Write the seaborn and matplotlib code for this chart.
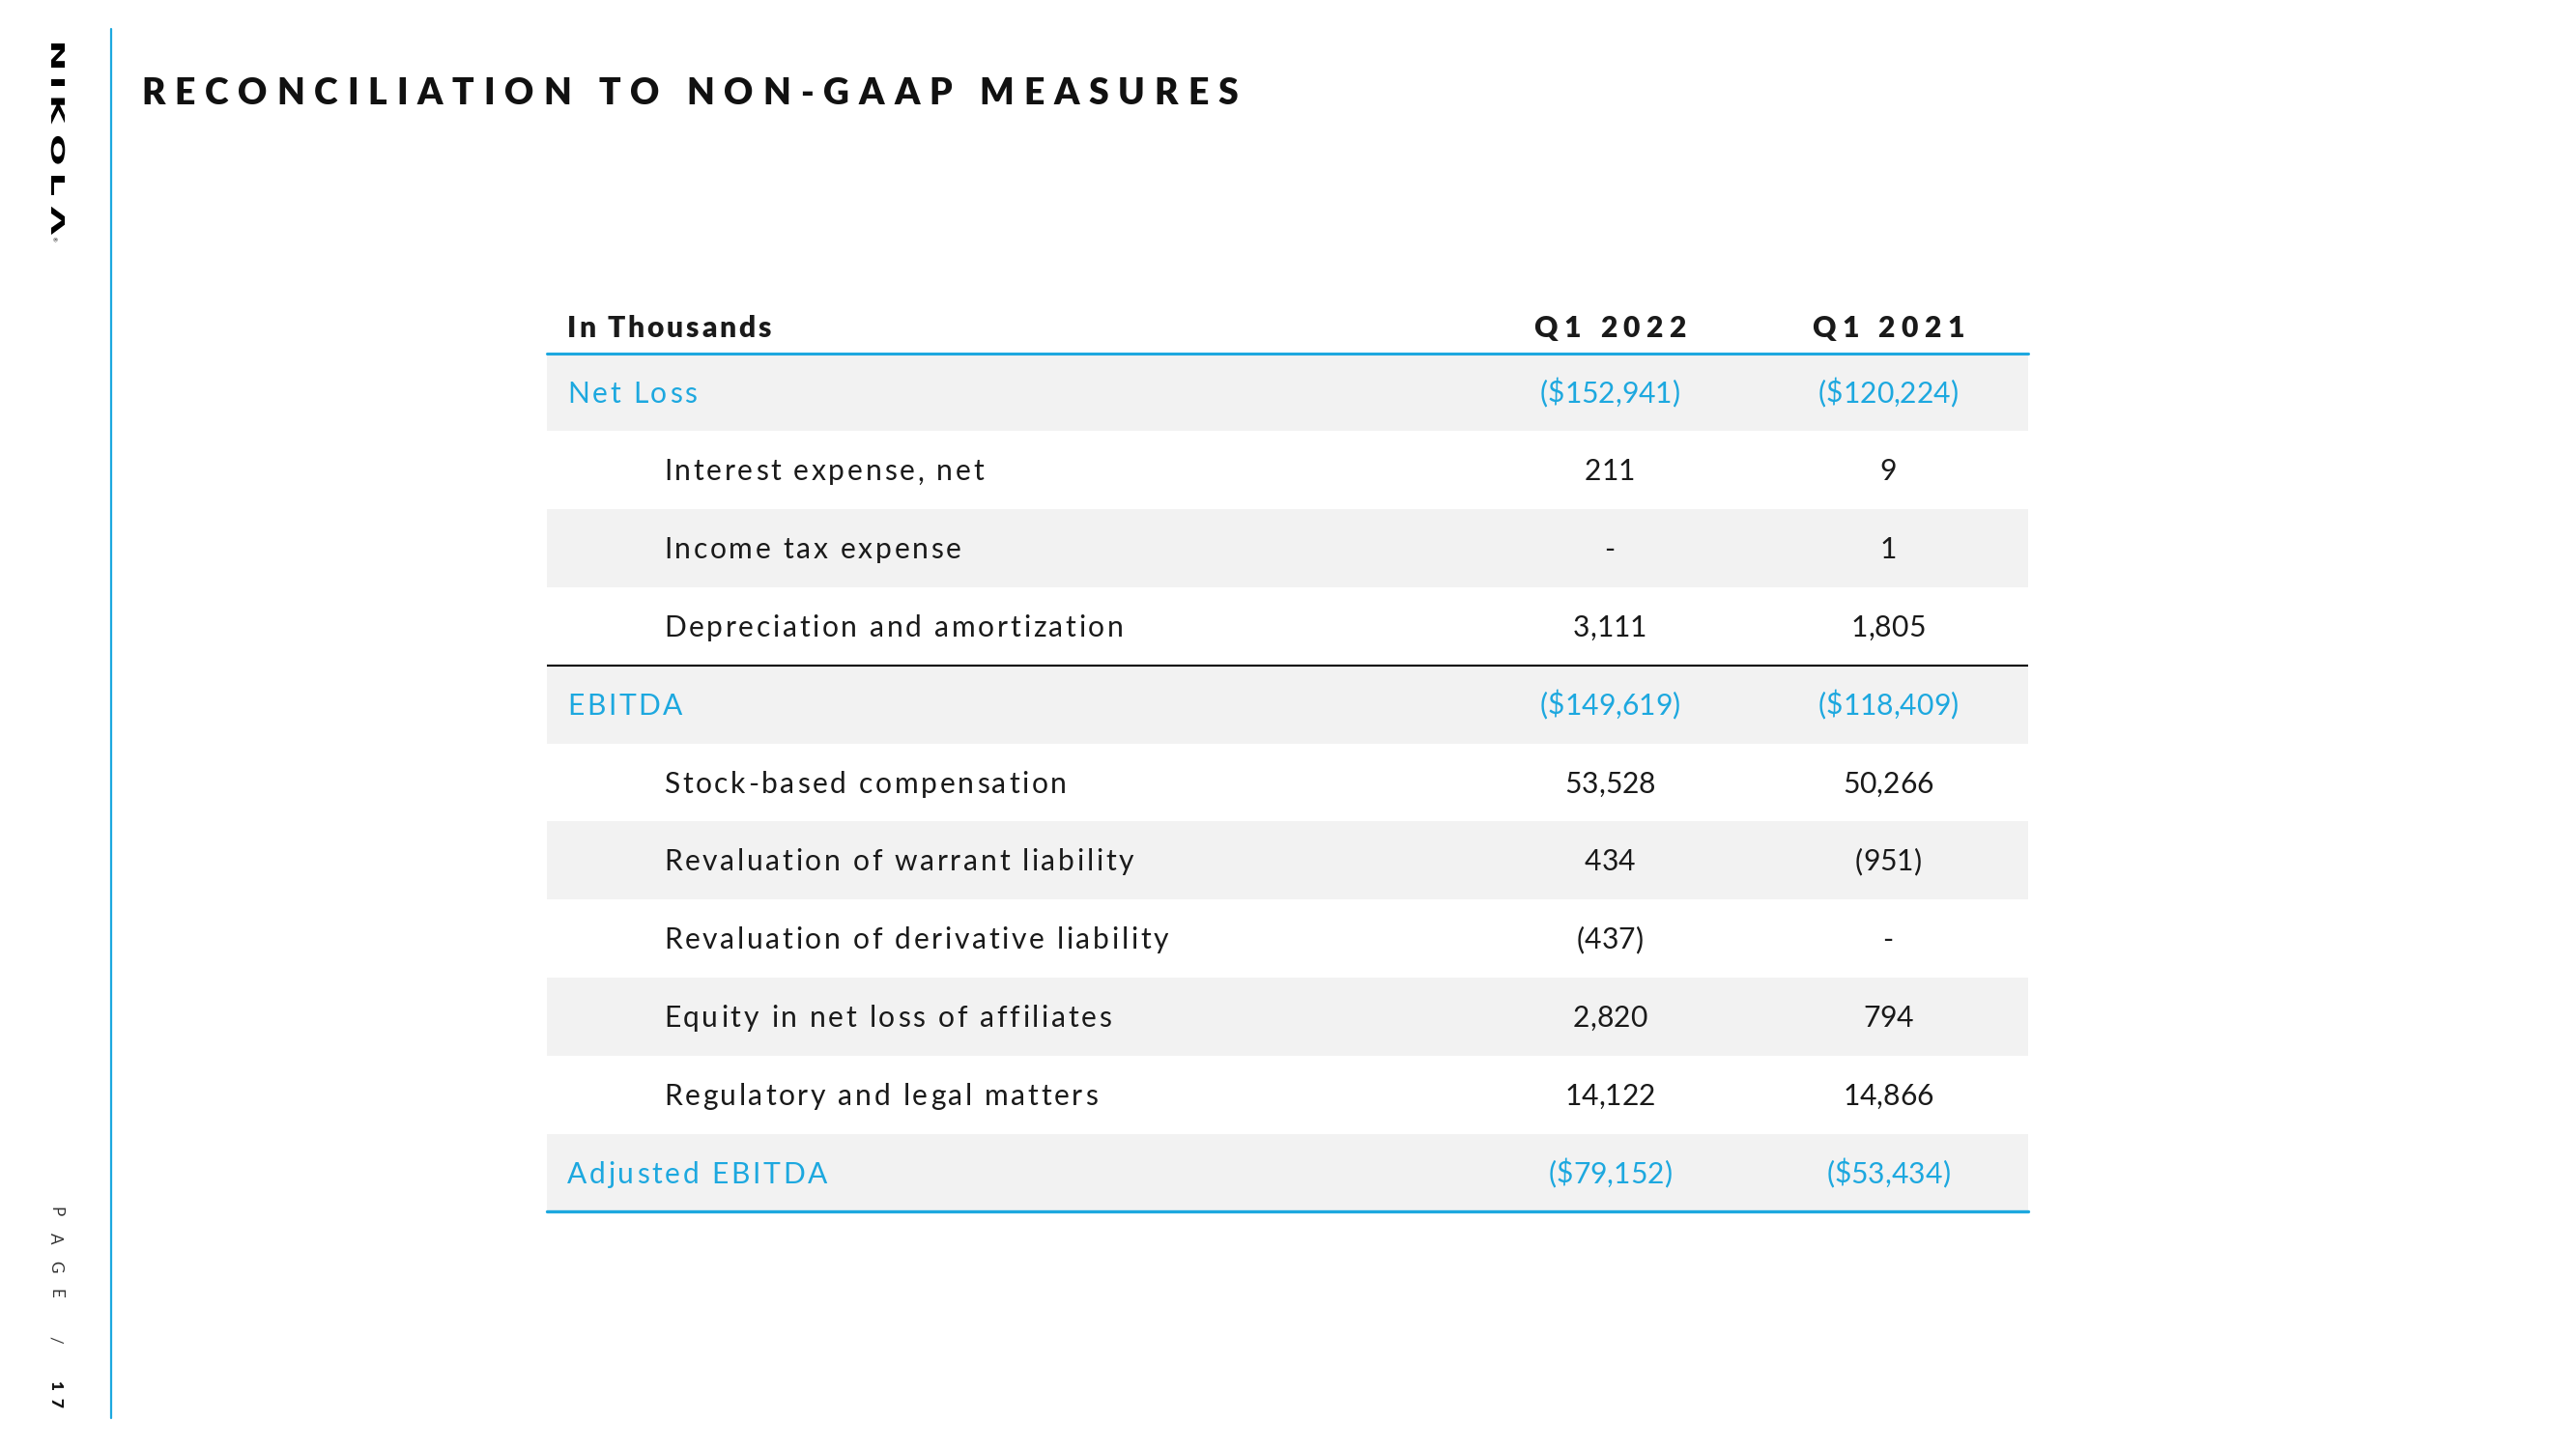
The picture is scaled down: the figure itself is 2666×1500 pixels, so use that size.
import matplotlib
matplotlib.use("Agg")
import matplotlib.pyplot as plt
import numpy as np
import pandas as pd
import seaborn as sns
from matplotlib import ft2font
from matplotlib.font_manager import FontProperties, findfont
from matplotlib.transforms import IdentityTransform, Affine2D
from matplotlib.textpath import TextPath
from matplotlib.patches import PathPatch
from matplotlib.lines import Line2D

# ---------------- data ----------------
title = "RECONCILIATION TO NON-GAAP MEASURES"
brand = "NIKOLΛ"
page_label = "PAGE / "
page_number = "17"
col_header = "In Thousands"
periods = ["Q1 2022", "Q1 2021"]
row_labels = [
    "Net Loss",
    "Interest expense, net",
    "Income tax expense",
    "Depreciation and amortization",
    "EBITDA",
    "Stock-based compensation",
    "Revaluation of warrant liability",
    "Revaluation of derivative liability",
    "Equity in net loss of affiliates",
    "Regulatory and legal matters",
    "Adjusted EBITDA",
]
q1_2022 = ["($152,941)", "211", "-", "3,111", "($149,619)", "53,528", "434",
           "(437)", "2,820", "14,122", "($79,152)"]
q1_2021 = ["($120,224)", "9", "1", "1,805", "($118,409)", "50,266", "(951)",
           "-", "794", "14,866", "($53,434)"]
row_level = [0, 1, 1, 1, 0, 1, 1, 1, 1, 1, 0]   # 0 = total line, 1 = adjustment

# ---------------- style ----------------
sns.set_theme(style="white")
plt.rcParams['font.family'] = ['Lato', 'DejaVu Sans']

W, H, DPI = 2666, 1500, 100
fig = plt.figure(figsize=(W / DPI, H / DPI), dpi=DPI, facecolor='white')

BLUE = '#1DA8DF'
INK = '#1A1A1A'
BAND = '#F2F2F2'
ID = IdentityTransform()

try:
    NOHINT = ft2font.LoadFlags.NO_HINTING
except AttributeError:
    NOHINT = ft2font.LOAD_NO_HINTING

_fonts = {}


def advances(s, fp):
    path = findfont(fp)
    f = _fonts.get(path)
    if f is None:
        f = ft2font.FT2Font(path)
        _fonts[path] = f
    f.set_size(fp.get_size_in_points(), DPI)
    return [f.load_char(ord(c), flags=NOHINT).linearHoriAdvance / 65536.0 for c in s]


def spaced(x, y, s, size, weight='normal', color=INK, track=0.0, align='left',
           rot=0, width=None, family='Lato'):
    """Draw text with letter spacing; x, y in display px (baseline)."""
    fp = FontProperties(family=family, size=size, weight=weight)
    adv = advances(s, fp)
    if width is not None and len(s) > 1:
        track = (width - sum(adv)) / (len(s) - 1)
    total = sum(adv) + track * (len(s) - 1)
    pen = {'left': 0.0, 'center': -total / 2, 'right': -total}[align]
    for c, a in zip(s, adv):
        if c != ' ':
            if rot == 0:
                px, py = x + pen, y
            else:
                px, py = x, y - pen
            fig.text(px, py, c, fontproperties=fp, color=color, ha='left',
                     va='baseline', rotation=rot, rotation_mode='anchor',
                     transform=ID)
        pen += a + track
    return pen


# ---------------- table axes ----------------
row_h = 80.8
first_line_px = 365.5
y_top_px = first_line_px - row_h
y_bot_px = first_line_px + len(row_labels) * row_h
tab_l, tab_r = 566, 2099
ax = fig.add_axes([tab_l / W, 1 - y_bot_px / H, (tab_r - tab_l) / W,
                   (y_bot_px - y_top_px) / H])

df = pd.DataFrame({
    'item': row_labels,
    'span': 1.0,
    'shade': ['band' if i % 2 == 0 else 'plain' for i in range(len(row_labels))],
})
sns.barplot(data=df, x='span', y='item', hue='shade',
            palette={'band': BAND, 'plain': 'white'}, orient='h', width=1.0,
            dodge=False, saturation=1, linewidth=0, errorbar=None,
            legend=False, ax=ax)
n = len(row_labels)
ax.set_xlim(0, 1)
ax.set_ylim(n - 0.5, -1.5)
ax.axis('off')

ax.axhline(-0.5, color=BLUE, lw=2.2, clip_on=False)
ax.axhline(n - 0.5, color=BLUE, lw=2.4, clip_on=False)
for i, lv in enumerate(row_level):
    if lv == 0 and 0 < i < n - 1:
        ax.axhline(i - 0.5, color='black', lw=1.5)


def row_y(r):
    return ax.transData.transform((0, r))[1]


def col_x(f):
    return ax.transAxes.transform((f, 0))[0]


BODY = 21.6
cap = 0.7165 * BODY * DPI / 72.0
x_lab0, x_lab1 = 0.0137, 0.0789
x_cols = [0.7176, 0.9054]

hy = row_y(-0.84) - cap / 2
spaced(col_x(x_lab0), hy, col_header, BODY, 'heavy', INK, track=2.8)
for p, xc in zip(periods, x_cols):
    spaced(col_x(xc), hy, p, BODY, 'heavy', INK, track=6.5, align='center')

for i, (lab, v1, v2, lv) in enumerate(zip(row_labels, q1_2022, q1_2021, row_level)):
    color = BLUE if lv == 0 else INK
    yb = row_y(i) - cap / 2
    spaced(col_x(x_lab0 if lv == 0 else x_lab1), yb, lab, BODY, 'normal', color, track=2.7)
    spaced(col_x(x_cols[0]), yb, v1, BODY, 'normal', color, track=0, align='center')
    spaced(col_x(x_cols[1]), yb, v2, BODY, 'normal', color, track=0, align='center')

# ---------------- title ----------------
spaced(146, H - 108, title, 26.8, 'heavy', '#111111', width=1281 - 146)

# ---------------- side rule ----------------
fig.add_artist(Line2D([114.5, 114.5], [H - 30, H - 1468], color=BLUE, lw=1.6,
                      transform=ID))

# ---------------- logo (stretched, rotated) ----------------
lfp = FontProperties(family='DejaVu Sans', weight='bold')
paths = [TextPath((0, 0), c, size=100, prop=lfp) for c in brand]
next_ = paths[0].get_extents()
sx = 25.0 / next_.width
sy = 14.0 / next_.height
inks = [p.get_extents().width * sx for p in paths]
y0, y1 = 45.0, 243.0
gap = (y1 - y0 - sum(inks)) / (len(brand) - 1)
pen = y0
for p, w in zip(paths, inks):
    e = p.get_extents()
    tr = (Affine2D().translate(-e.x0, 0).scale(sx, sy).rotate_deg(-90)
          .translate(53.0, H - pen))
    fig.add_artist(PathPatch(tr.transform_path(p), facecolor='black', lw=0,
                             transform=ID))
    pen += w + gap
fig.text(53.0, H - 243.5, "®", fontsize=4.5, color='black', rotation=-90,
         rotation_mode='anchor', ha='left', va='baseline', transform=ID,
         family='DejaVu Sans')

# ---------------- page number ----------------
end = spaced(52, H - 1249, page_label, 12.3, 'normal', '#333333', track=17, rot=-90)
spaced(52, H - 1249 - end, page_number, 12.3, 'heavy', '#111111', track=8, rot=-90)

fig.savefig('out.png', dpi=DPI, facecolor='white')
